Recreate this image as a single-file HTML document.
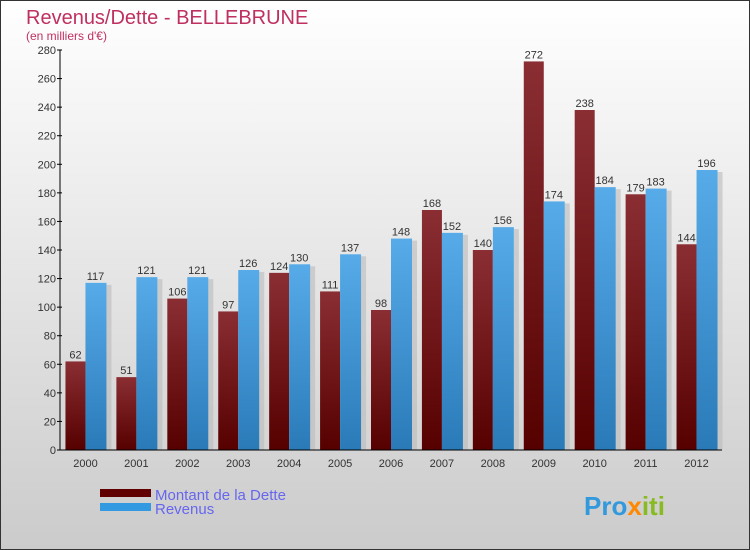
<!DOCTYPE html>
<html><head><meta charset="utf-8"><style>
body{margin:0;width:750px;height:550px;overflow:hidden}
svg{display:block;font-family:"Liberation Sans",sans-serif}
</style></head><body>
<svg id="c" width="750" height="550" xmlns="http://www.w3.org/2000/svg">
<defs>
<linearGradient id="bg" x1="0" y1="0" x2="0" y2="1"><stop offset="0" stop-color="#ffffff"/><stop offset="1" stop-color="#cbcbcb"/></linearGradient>
<linearGradient id="rd" x1="0" y1="0" x2="0" y2="1"><stop offset="0" stop-color="#8a2e33"/><stop offset="1" stop-color="#560000"/></linearGradient>
<linearGradient id="bl" x1="0" y1="0" x2="0" y2="1"><stop offset="0" stop-color="#56abe8"/><stop offset="1" stop-color="#2a7ab8"/></linearGradient>
</defs>
<rect x="0.5" y="0.5" width="749" height="549" fill="url(#bg)" stroke="#333"/>
<text x="26" y="24" font-size="20" fill="#c0305f">Revenus/Dette - BELLEBRUNE</text>
<text x="26" y="40" font-size="12" fill="#c0305f">(en milliers d'€)</text>
<g id="plot"></g>
<rect x="100" y="489" width="51" height="8" fill="#600000"/>
<rect x="100" y="503" width="51" height="8" fill="#3399e0"/>
<text x="155" y="500" font-size="15" fill="#6666ee">Montant de la Dette</text>
<text x="155" y="514" font-size="15" fill="#6666ee">Revenus</text>
<text x="584" y="515" font-size="26" font-weight="bold" fill="#3399dd">Pro<tspan fill="#ff8800">x</tspan><tspan fill="#88bb22">iti</tspan></text>
</svg>
<script>
const years=["2000","2001","2002","2003","2004","2005","2006","2007","2008","2009","2010","2011","2012"];
const dette=[62,51,106,97,124,111,98,168,140,272,238,179,144];
const revenus=[117,121,121,126,130,137,148,152,156,174,184,183,196];
const yTicks=[0,20,40,60,80,100,120,140,160,180,200,220,240,260,280];
const NS="http://www.w3.org/2000/svg";
const g=document.getElementById('plot');
const x0=60,x1=722,y0=450,yTop=50,yMax=280;
const step=(x1-x0)/years.length;
function y(v){return y0-v*(y0-yTop)/yMax;}
function xc(i){return x0+step*(i+0.5);}
function mk(t,a,p){const e=document.createElementNS(NS,t);for(const k in a)e.setAttribute(k,a[k]);(p||g).appendChild(e);return e;}
years.forEach((yr,i)=>{
  const c=xc(i);
  const sh=mk('rect',{x:c+21,y:y(revenus[i])+2,width:5,height:y0-y(revenus[i])-2,fill:'#bbb',opacity:0.6});
  
  
  const r=mk('rect',{x:c-20,y:y(dette[i]),width:20,height:y0-y(dette[i]),fill:'url(#rd)'});
  
  
  const b=mk('rect',{x:c,y:y(revenus[i]),width:21,height:y0-y(revenus[i]),fill:'url(#bl)'});
  
  
  const t1=mk('text',{x:c-10,y:y(dette[i])-3,'font-size':11,fill:'#333','text-anchor':'middle'});
  t1.textContent=dette[i];
  
  
  const t2=mk('text',{x:c+10,y:y(revenus[i])-3,'font-size':11,fill:'#333','text-anchor':'middle'});
  t2.textContent=revenus[i];
  
  
  const xl=mk('text',{x:c,y:467,'font-size':11,fill:'#333','text-anchor':'middle'});
  xl.textContent=yr;
  
  
});
yTicks.forEach(v=>{
  const l=mk('line',{x1:x0-3,x2:x0+2,y1:y(v),y2:y(v),stroke:'#000'});
  
  
  const t=mk('text',{x:x0-4,y:y(v)+4,'font-size':11,fill:'#333','text-anchor':'end'});
  t.textContent=v;
  
  
});
const ya=mk('line',{x1:x0,x2:x0,y1:yTop,y2:y0,stroke:'#000'});


const xa=mk('line',{x1:x0,x2:x1,y1:y0,y2:y0,stroke:'#000'});


</script>
</body></html>
